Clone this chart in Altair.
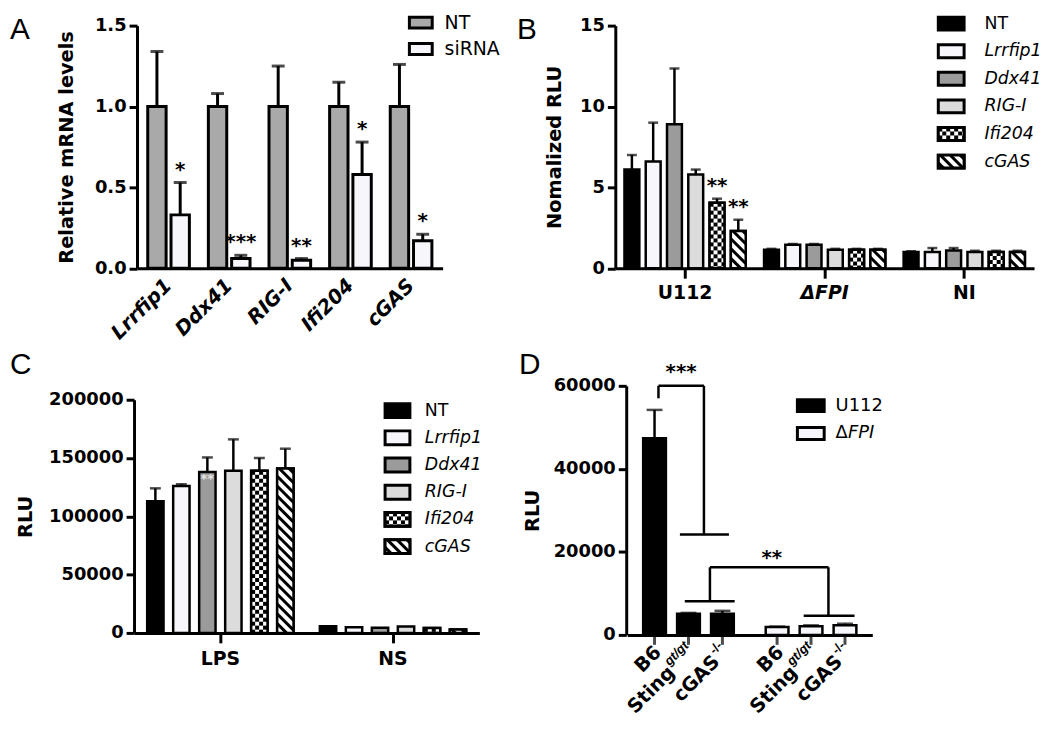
import base64
import altair as alt
import pandas as pd

# ---------------------------------------------------------------- data
PANEL_LETTERS = ["A", "B", "C", "D"]

A_genes = ["Lrrfip1", "Ddx41", "RIG-I", "Ifi204", "cGAS"]
A_conds = ["NT", "siRNA"]
A_nt = [1.0, 1.0, 1.0, 1.0, 1.0]
A_nt_err = [1.34, 1.08, 1.25, 1.15, 1.26]
A_si = [0.33, 0.06, 0.05, 0.58, 0.17]
A_si_err = [0.53, 0.08, 0.06, 0.78, 0.21]
A_sig = ["*", "***", "**", "*", "*"]
A_yticks = [0.0, 0.5, 1.0, 1.5]

B_groups = ["U112", "ΔFPI", "NI"]
B_genes = ["NT", "Lrrfip1", "Ddx41", "RIG-I", "Ifi204", "cGAS"]
B_u112 = [6.1, 6.6, 8.9, 5.8, 4.05, 2.3]
B_u112_err = [7.0, 9.0, 12.35, 6.1, 4.3, 3.0]
B_u112_sig = ["", "", "", "", "**", "**"]
B_dfpi = [1.15, 1.45, 1.45, 1.15, 1.15, 1.15]
B_dfpi_err = [1.2, 1.5, 1.5, 1.2, 1.2, 1.2]
B_ni = [1.0, 1.0, 1.1, 1.0, 1.0, 1.0]
B_ni_err = [1.05, 1.25, 1.25, 1.08, 1.08, 1.08]
B_yticks = [0, 5, 10, 15]

C_groups = ["LPS", "NS"]
C_genes = ["NT", "Lrrfip1", "Ddx41", "RIG-I", "Ifi204", "cGAS"]
C_lps = [113000, 126000, 138000, 139000, 139000, 141000]
C_lps_err = [124000, 127500, 150500, 166000, 150000, 158000]
C_lps_note = ["", "", "**", "", "", ""]
C_ns = [5700, 4900, 4500, 5500, 4300, 2900]
C_ns_err = [5700, 4900, 4500, 5500, 4300, 2900]
C_yticks = [0, 50000, 100000, 150000, 200000]

D_infections = ["U112", "ΔFPI"]
D_genotypes = ["B6", "Sting", "cGAS"]
D_sup = ["", "gt/gt", "-/-"]
D_u112 = [47400, 5100, 5100]
D_u112_err = [54200, 5300, 5800]
D_dfpi = [1900, 2100, 2300]
D_dfpi_err = [2000, 2300, 2700]
D_yticks = [0, 20000, 40000, 60000]
# significance brackets: x in infection-group units (0..2), y in RLU
D_br_x = [0.255, 0.255, 0.626, 0.43, 0.47, 0.675, 0.675, 1.642, 1.44]
D_br_x2 = [0.255, 0.626, 0.626, 0.83, 0.877, 0.675, 1.642, 1.642, 1.855]
D_br_y = [57000, 60000, 60000, 24200, 8100, 8100, 16300, 16300, 4600]
D_br_y2 = [60000, 60000, 24200, 24200, 8100, 16300, 16300, 4600, 4600]
D_br_text = ["***", "**"]
D_br_text_x = [0.44, 1.18]
D_br_text_y = [64500, 19600]

# ---------------------------------------------------------------- style
W, H = 1042, 712
SANS = "DejaVu Sans"
NARROW = "Liberation Sans"
LETTER_FONT = "Liberation Sans"
INK = "#000000"
PALE = "#f6f6fb"


def svg_data_url(svg):
    return "data:image/svg+xml;base64," + base64.b64encode(svg.encode("utf-8")).decode("ascii")


CHECKER_URL = svg_data_url(
    '<svg xmlns="http://www.w3.org/2000/svg" width="100%" height="100%">'
    '<defs><pattern id="p" width="8" height="8" patternUnits="userSpaceOnUse">'
    '<rect width="8" height="8" fill="#ffffff"/><rect width="4" height="4" fill="#000000"/>'
    '<rect x="4" y="4" width="4" height="4" fill="#000000"/></pattern></defs>'
    '<rect width="4000" height="4000" fill="url(#p)"/></svg>')
STRIPE_URL = svg_data_url(
    '<svg xmlns="http://www.w3.org/2000/svg" width="100%" height="100%">'
    '<defs><pattern id="p" width="7" height="7" patternUnits="userSpaceOnUse" patternTransform="rotate(-45)">'
    '<rect width="7" height="7" fill="#ffffff"/><rect width="3" height="7" fill="#000000"/></pattern></defs>'
    '<rect width="4000" height="4000" fill="url(#p)"/></svg>')

GENE_FILLS = ["#000000", PALE, "#9b9b9b", "#dcdcdc", "#ffffff", "#ffffff"]
GENE_PATTERNS = [("Ifi204", CHECKER_URL), ("cGAS", STRIPE_URL)]
SUP_WIDTH = {"gt/gt": 28.0, "-/-": 12.5}


def y_axis(title, values, fmt, x_pos, title_pad):
    return alt.Axis(orient="left", offset=-x_pos, title=title, values=values, format=fmt, grid=False,
                    domainColor=INK, domainWidth=3, tickColor=INK, tickWidth=3, tickSize=8,
                    labelFont=SANS, labelFontWeight="bold", labelFontSize=18, labelColor=INK,
                    labelPadding=3, titleFont=SANS, titleFontWeight="bold", titleFontSize=19.5,
                    titleColor=INK, titlePadding=title_pad)


def x_axis(y_pos, **kw):
    opts = dict(orient="bottom", offset=y_pos - H, title=None, grid=False, domainColor=INK,
                domainWidth=3, tickColor=INK, tickWidth=3, tickSize=10, labelFont=SANS,
                labelFontWeight="bold", labelFontSize=19, labelColor=INK, labelPadding=5)
    opts.update(kw)
    return alt.Axis(**opts)


def long_table(groups, members, vals, errs, extra=None):
    rows = []
    for gi, g in enumerate(groups):
        for mi, m in enumerate(members):
            row = {"grp": g, "mem": m, "value": vals[gi][mi], "err": errs[gi][mi]}
            for k, arr in (extra or {}).items():
                row[k] = arr[gi][mi]
            rows.append(row)
    return pd.DataFrame(rows)


def bar_panel(df, groups, members, color_field, color_domain, fills, xr, yr, ydom, yax, xax,
              x_pi, x_po, xo_pi, xo_po, sw, capw, patterns=()):
    X = alt.X("grp:N", scale=alt.Scale(domain=groups, range=xr, paddingInner=x_pi,
                                       paddingOuter=x_po), axis=xax)
    XO = alt.XOffset("mem:N", scale=alt.Scale(domain=members, paddingInner=xo_pi,
                                              paddingOuter=xo_po))

    def Y(f):
        return alt.Y(f + ":Q", stack=None, axis=yax,
                     scale=alt.Scale(domain=ydom, range=yr, nice=False, zero=True))

    col = alt.Color(color_field + ":N", scale=alt.Scale(domain=color_domain, range=fills), legend=None)
    base = alt.Chart(df).encode(x=X, xOffset=XO)
    with_err = base.transform_filter("datum.err > datum.value")
    layers = [
        with_err.mark_rule(color=INK, strokeWidth=sw).encode(y=Y("value"), y2="err:Q"),
        base.mark_bar(stroke=INK, strokeWidth=sw).encode(y=Y("value"), color=col),
    ]
    for m, url in patterns:
        layers.append(base.transform_filter(alt.datum.mem == m).transform_calculate(zero="0")
                      .mark_image(url=url, aspect=False).encode(y=Y("value"), y2="zero:Q"))
    if patterns:
        layers.append(base.transform_filter(alt.FieldOneOfPredicate(field="mem", oneOf=[m for m, _ in patterns]))
                      .mark_bar(fill="transparent", stroke=INK, strokeWidth=sw).encode(y=Y("value")))
    layers.append(with_err.mark_tick(orient="horizontal", color=INK, thickness=sw, size=capw)
                  .encode(y=Y("err")))
    return layers, base, Y


def stars(base, Y, size=20):
    return (base.transform_filter("datum.sig != ''")
            .mark_text(font=SANS, fontWeight="bold", fontSize=size, color=INK, baseline="alphabetic", dy=-7)
            .encode(y=Y("err"), text="sig:N"))


def legend(labels, fills, x0, x1, xt, c0, c1, h, sw, fsize, main, ital, ital_dx=0, patterns=()):
    n = len(labels)
    step = (c1 - c0) / (n - 1)
    pi = 1 - h / step
    df = pd.DataFrame({"lab": labels, "main": main, "ital": ital})
    Yl = alt.Y("lab:N", axis=None, scale=alt.Scale(domain=labels, range=[c0 - step / 2, c1 + step / 2],
                                                   paddingInner=pi, paddingOuter=pi / 2))
    base = alt.Chart(df).encode(y=Yl)
    layers = [base.mark_rect(stroke=INK, strokeWidth=sw).encode(
        x=alt.value(x0), x2=alt.value(x1),
        color=alt.Color("lab:N", scale=alt.Scale(domain=labels, range=fills), legend=None))]
    for lab, url in patterns:
        layers.append(base.transform_filter(alt.datum.lab == lab).mark_image(url=url, aspect=False)
                      .encode(x=alt.value(x0), x2=alt.value(x1)))
    if patterns:
        layers.append(base.transform_filter(alt.FieldOneOfPredicate(field="lab", oneOf=[l for l, _ in patterns]))
                      .mark_rect(fill="transparent", stroke=INK, strokeWidth=sw)
                      .encode(x=alt.value(x0), x2=alt.value(x1)))
    layers.append(base.mark_text(align="left", baseline="middle", font=SANS, fontSize=fsize, color=INK)
                  .encode(x=alt.value(xt), text="main:N"))
    layers.append(base.mark_text(align="left", baseline="middle", font=SANS, fontSize=fsize, color=INK,
                                 fontStyle="italic").encode(x=alt.value(xt + ital_dx), text="ital:N"))
    return alt.layer(*layers)


def letter(t, x, y):
    return (alt.Chart(pd.DataFrame({"t": [t]}))
            .mark_text(align="left", baseline="alphabetic", font=LETTER_FONT, fontSize=30, color=INK)
            .encode(x=alt.value(x), y=alt.value(y), text="t:N"))


# ---------------------------------------------------------------- panel A
dfA = long_table(A_genes, A_conds,
                 [[A_nt[i], A_si[i]] for i in range(len(A_genes))],
                 [[A_nt_err[i], A_si_err[i]] for i in range(len(A_genes))],
                 {"sig": [["", A_sig[i]] for i in range(len(A_genes))]})
axA_y = y_axis("Relative mRNA levels", A_yticks, ".1f", 130, 18)
axA_x = x_axis(259.5, labelAngle=-45, labelAlign="right", labelBaseline="middle", ticks=False,
               tickSize=0, labelPadding=14, labelFontStyle="italic", labelFontSize=20)
layA, baseA, YA = bar_panel(dfA, A_genes, A_conds, "mem", A_conds, ["#a9a9a9", PALE],
                            [130, 438], [259.5, 15], [0, 1.5], axA_y, axA_x,
                            0.313, 0.177, 0.21, 0.0, 3, 13)
panelA = alt.layer(*layA, stars(baseA, YA))

# ---------------------------------------------------------------- panel B
dfB = long_table(B_groups, B_genes, [B_u112, B_dfpi, B_ni], [B_u112_err, B_dfpi_err, B_ni_err],
                 {"sig": [B_u112_sig, [""] * 6, [""] * 6]})
axB_y = y_axis("Nomalized RLU", B_yticks, "d", 612, 15)
axB_x = x_axis(259.5, labelAngle=0, labelPadding=5,
               labelFontStyle={"condition": {"test": "datum.value == 'ΔFPI'", "value": "italic"},
                               "value": "normal"})
layB, baseB, YB = bar_panel(dfB, B_groups, B_genes, "mem", B_genes, GENE_FILLS,
                            [612, 1034], [259.5, 15], [0, 15], axB_y, axB_x,
                            0.0, 0.0, 0.30, 0.43, 2.5, 10, GENE_PATTERNS)
panelB = alt.layer(*layB, stars(baseB, YB))

# ---------------------------------------------------------------- panel C
dfC = long_table(C_groups, C_genes, [C_lps, C_ns], [C_lps_err, C_ns_err],
                 {"note": [C_lps_note, [""] * 6]})
axC_y = y_axis("RLU", C_yticks, "d", 127, 13)
axC_x = x_axis(627, labelAngle=0, labelPadding=7)
layC, baseC, YC = bar_panel(dfC, C_groups, C_genes, "mem", C_genes, GENE_FILLS,
                            [127, 475], [627, 392], [0, 200000], axC_y, axC_x,
                            0.0, 0.0, 0.37, 0.506, 2.5, 11, GENE_PATTERNS)
noteC = (baseC.transform_filter("datum.note != ''")
         .mark_text(font=SANS, fontWeight="bold", fontSize=13, color="#e6e6e6", baseline="top", dy=1)
         .encode(y=YC("value"), text="note:N"))
panelC = alt.layer(*layC, noteC)

# ---------------------------------------------------------------- panel D
dfD = long_table(D_infections, D_genotypes, [D_u112, D_dfpi], [D_u112_err, D_dfpi_err],
                 {"sup": [D_sup, D_sup]})
axD_y = y_axis("RLU", D_yticks, "d", 623, 11)
axD_x = x_axis(629, labels=False, ticks=False)
layD, baseD, YD = bar_panel(dfD, D_infections, D_genotypes, "grp", D_infections, ["#000000", PALE],
                            [624, 871], [629, 378], [0, 60000], axD_y, axD_x,
                            0.0, 0.0, 0.33, 0.47, 2.5, 16)
baseD0 = baseD.transform_calculate(zero="0")
layD.append(baseD0.mark_tick(orient="vertical", color=INK, thickness=3, size=10, yOffset=5)
            .encode(y=YD("zero")))
LABEL_DY = 18
for k, g in enumerate(D_genotypes):
    sup = D_sup[k]
    shift = -(SUP_WIDTH[sup] + 1) if sup else 0
    sel = baseD0.transform_filter(alt.datum.mem == g)
    layD.append(sel.mark_text(angle=315, align="right", baseline="middle", font=SANS, fontWeight="bold",
                              fontSize=19.5, color=INK, yOffset=LABEL_DY, dx=shift + 5)
                .encode(y=YD("zero"), text="mem:N"))
    if sup:
        layD.append(sel.mark_text(angle=315, align="right", baseline="middle", font=NARROW,
                                  fontWeight="bold", fontStyle="italic" if "gt" in sup else "normal",
                                  fontSize=13, color=INK, yOffset=LABEL_DY, dy=-8, dx=5)
                    .encode(y=YD("zero"), text="sup:N"))
panelD = alt.layer(*layD)

dfBr = pd.DataFrame({"x": D_br_x, "x2": D_br_x2, "y": D_br_y, "y2": D_br_y2})
dfBt = pd.DataFrame({"x": D_br_text_x, "y": D_br_text_y, "t": D_br_text})
XBr = alt.X("x:Q", axis=None, scale=alt.Scale(domain=[0, 2], range=[624, 871], nice=False, zero=False))
YBr = alt.Y("y:Q", axis=None, scale=alt.Scale(domain=[0, 60000], range=[629, 378], nice=False))
bracketsD = alt.layer(
    alt.Chart(dfBr).mark_rule(color=INK, strokeWidth=2.5).encode(x=XBr, x2="x2:Q", y=YBr, y2="y2:Q"),
    alt.Chart(dfBt).mark_text(font=SANS, fontWeight="bold", fontSize=20, color=INK, baseline="alphabetic",
                              dy=11).encode(x=XBr, y=YBr, text="t:N"),
)

# ---------------------------------------------------------------- legends
legA = legend(A_conds, ["#a9a9a9", PALE], 404.5, 427.5, 440, 12, 38.5, 11, 3, 19,
              main=A_conds, ital=["", ""])
gene_main = [g if g == "NT" else "" for g in B_genes]
gene_ital = ["" if g == "NT" else g for g in B_genes]
legB = legend(B_genes, GENE_FILLS, 937.5, 963.5, 984, 13, 152, 13, 3, 17.5,
              main=gene_main, ital=gene_ital, patterns=GENE_PATTERNS)
legC = legend(C_genes, GENE_FILLS, 380, 405, 420, 403, 540, 14, 3, 17.5,
              main=gene_main, ital=gene_ital, patterns=GENE_PATTERNS)
legD = legend(D_infections, ["#000000", PALE], 795.5, 822.5, 834, 398, 426, 12, 3, 18,
              main=["U112", "Δ"], ital=["", "FPI"], ital_dx=12.5)

letters = [letter(PANEL_LETTERS[0], 2, 28), letter(PANEL_LETTERS[1], 513, 28),
           letter(PANEL_LETTERS[2], 2, 366), letter(PANEL_LETTERS[3], 515, 366)]

chart = (alt.layer(panelA, panelB, panelC, panelD, bracketsD, legA, legB, legC, legD, *letters)
         .resolve_scale(x="independent", y="independent", xOffset="independent", color="independent")
         .properties(width=W, height=H, padding=0, background="white",
                     autosize=alt.AutoSizeParams(type="none"))
         .configure_view(strokeWidth=0))

chart.save("out.html", embed_options={"renderer": "svg", "actions": False})
